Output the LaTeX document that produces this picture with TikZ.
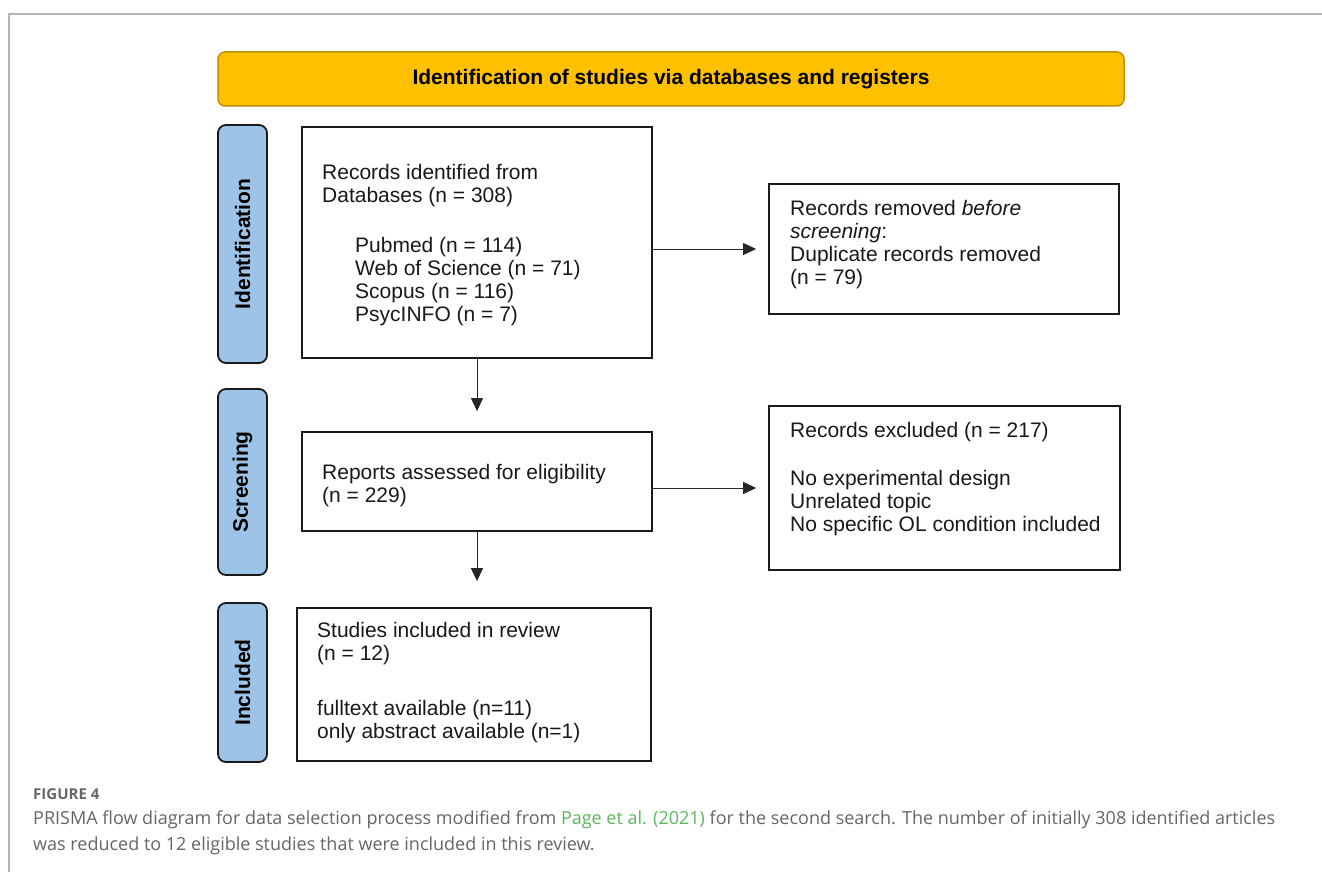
\documentclass[tikz,border=0pt]{standalone}
\usepackage{fontspec}
\setmainfont{Liberation Sans}
\newfontfamily\capfont{Open Sans}
\usetikzlibrary{arrows.meta}
\definecolor{bannerfill}{HTML}{FFC000}
\definecolor{bannerdraw}{HTML}{BF9000}
\definecolor{sidefill}{HTML}{9DC3E6}
\definecolor{boxline}{HTML}{1A1A1A}
\definecolor{framegray}{HTML}{B4B4B4}
\definecolor{capgray}{HTML}{666666}
\definecolor{capgreen}{HTML}{5CB85C}
\tikzset{
  banner/.style={draw=bannerdraw, fill=bannerfill, line width=1.5pt, rounded corners=7pt, inner sep=0pt},
  sidebox/.style={draw=boxline, fill=sidefill, line width=1.8pt, rounded corners=8pt, inner sep=0pt},
  flowbox/.style={draw=boxline, line width=1.8pt, inner sep=0pt},
  txt/.style={inner sep=0pt, align=left, anchor=north west, font=\fontsize{21}{23}\selectfont, text=black!90},
  sidetxt/.style={inner sep=0pt, rotate=90, font=\bfseries\fontsize{21}{23}\selectfont},
  conn/.style={line width=1pt, draw=black!85, -{Triangle[length=13pt,width=12pt]}},
  captxt/.style={inner sep=0pt, anchor=base west, text=capgray, font=\capfont\fontsize{18}{22}\selectfont},
}
\begin{document}
\begin{tikzpicture}[x=1pt,y=-1pt]
\useasboundingbox (0,0) rectangle (1322,872);
\fill[white] (0,0) rectangle (1322,872);
% frame
\draw[framegray, line width=1.5pt] (9,872) -- (9,14) -- (1322,14);
% banner
\node[banner, minimum width=906pt, minimum height=54pt] (ban) at (671,79)
  {\bfseries\fontsize{21}{23}\selectfont Identification of studies via databases and registers};
% side labels
\node[sidebox, minimum width=49pt, minimum height=238pt] (sid) at (242.5,244) {};
\node[sidetxt] (sidt) at (sid.center) {Identification};
\node[sidebox, minimum width=49pt, minimum height=186pt] (sscr) at (242.5,482) {};
\node[sidetxt] (sscrt) at (sscr.center) {Screening};
\node[sidebox, minimum width=49pt, minimum height=159pt] (sinc) at (242.5,682.5) {};
\node[sidetxt] (sinct) at (sinc.center) {Included};
% main boxes
\node[flowbox, minimum width=350pt, minimum height=231pt] (b1) at (477,242.5) {};
\node[txt] (b1t) at (322,164) {Records identified from\\Databases (n = 308)\\[27pt]
\hspace*{33pt}Pubmed (n = 114)\\\hspace*{33pt}Web of Science (n = 71)\\\hspace*{33pt}Scopus (n = 116)\\\hspace*{33pt}PsycINFO (n = 7)};
\node[flowbox, minimum width=350pt, minimum height=99pt] (b2) at (477,481.5) {};
\node[txt] (b2t) at (322,464) {Reports assessed for eligibility\\(n = 229)};
\node[flowbox, minimum width=354pt, minimum height=153pt] (b3) at (474,684.5) {};
\node[txt] (b3t) at (317,622) {Studies included in review\\(n = 12)\\[32pt]fulltext available (n=11)\\only abstract available (n=1)};
% right boxes
\node[flowbox, minimum width=350pt, minimum height=130pt] (r1) at (944,249) {};
\node[txt] (r1t) at (790,200) {Records removed \textit{before}\\\textit{screening}:\\Duplicate records removed\\(n = 79)};
\node[flowbox, minimum width=351pt, minimum height=164pt] (r2) at (944.5,488) {};
\node[txt] (r2t) at (790,422) {Records excluded (n = 217)\\[25pt]No experimental design\\Unrelated topic\\No specific OL condition included};
% connectors
\draw[conn, shorten >=20pt] (b1.south) -- (b2.north);
\draw[conn, shorten >=26pt] (b2.south) -- (b3.north -| b2.south);
\draw[conn, shorten >=12pt] (b1.east |- r1.west) -- (r1.west);
\draw[conn, shorten >=12pt] (b2.east |- r2.west) -- (r2.west);
% caption
\node[captxt, font=\capfont\fontsize{15}{18}\selectfont] (figl) at (33,799) {\textbf{FIGURE 4}};
\node[captxt] (cap1) at (33,824)
{PRISMA flow diagram for data selection process modified from \textcolor{capgreen}{Page et al. (2021)} for the second search. The number of initially 308 identified articles};
\node[captxt] (cap2) at (33,850) {was reduced to 12 eligible studies that were included in this review.};
\end{tikzpicture}
\end{document}
